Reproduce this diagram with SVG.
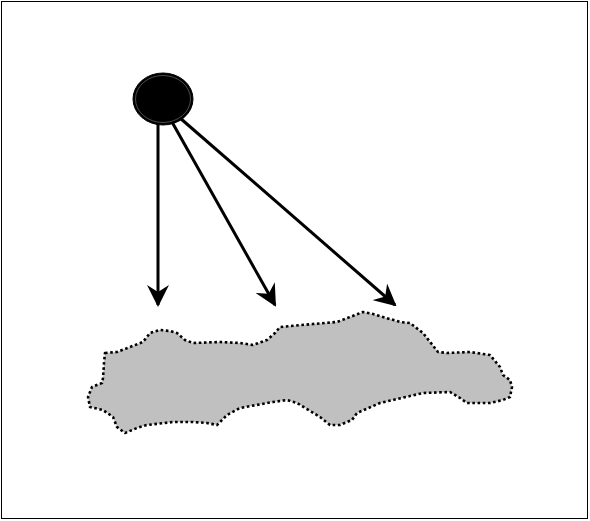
<svg xmlns="http://www.w3.org/2000/svg" width="590" height="521" viewBox="0 0 590 521">
  <style>
    .frame { fill: #ffffff; stroke: #000000; stroke-width: 1; }
    .ray { stroke: #000000; stroke-width: 3; fill: none; marker-end: url(#barb); }
    .land { fill: #c0c0c0; stroke: #000000; stroke-width: 2.6; stroke-dasharray: 2.6 2.6; stroke-linejoin: round; }
  </style>
  <defs>
    <marker id="barb" viewBox="0 0 22 22" refX="20" refY="11" markerWidth="22" markerHeight="22" markerUnits="userSpaceOnUse" orient="auto">
      <path d="M0,0 L22,11 L0,22 L7,11 Z" fill="#000000"/>
    </marker>
  </defs>
  <rect class="frame" x="1.5" y="1.5" width="586" height="517"/>

  <g id="land">
    <polygon class="land" points="105,353 117,352 130,347 143,342 150,333 160,330 170,331 177,333 185,340 193,343 220,342 240,343 253,345 267,340 275,333 280,327 313,324 337,322 350,317 363,312 373,314 400,322 410,323 423,333 438,352 447,353 470,352 490,355 500,367 503,375 510,380 512,387 510,397 503,400 490,403 467,403 460,398 450,392 423,393 380,403 357,413 352,420 340,425 330,425 320,417 297,403 287,400 273,402 240,408 227,415 217,425 207,423 193,422 173,422 147,425 137,428 125,433 117,427 113,417 103,410 90,407 88,397 92,387 102,383 103,378 104,363"/>
  </g>

  <g id="source">
    <ellipse cx="163" cy="99" rx="30" ry="26" fill="#000000" stroke="#000000" stroke-width="1"/>
    <ellipse cx="163" cy="99" rx="27.5" ry="23.5" fill="none" stroke="#808080" stroke-width="0.6"/>
  </g>

  <g id="connectors">
    <line class="ray" x1="158" y1="124" x2="158" y2="305"/>
    <line class="ray" x1="172" y1="122" x2="275" y2="305"/>
    <line class="ray" x1="180" y1="118" x2="395" y2="305"/>
  </g>
</svg>
